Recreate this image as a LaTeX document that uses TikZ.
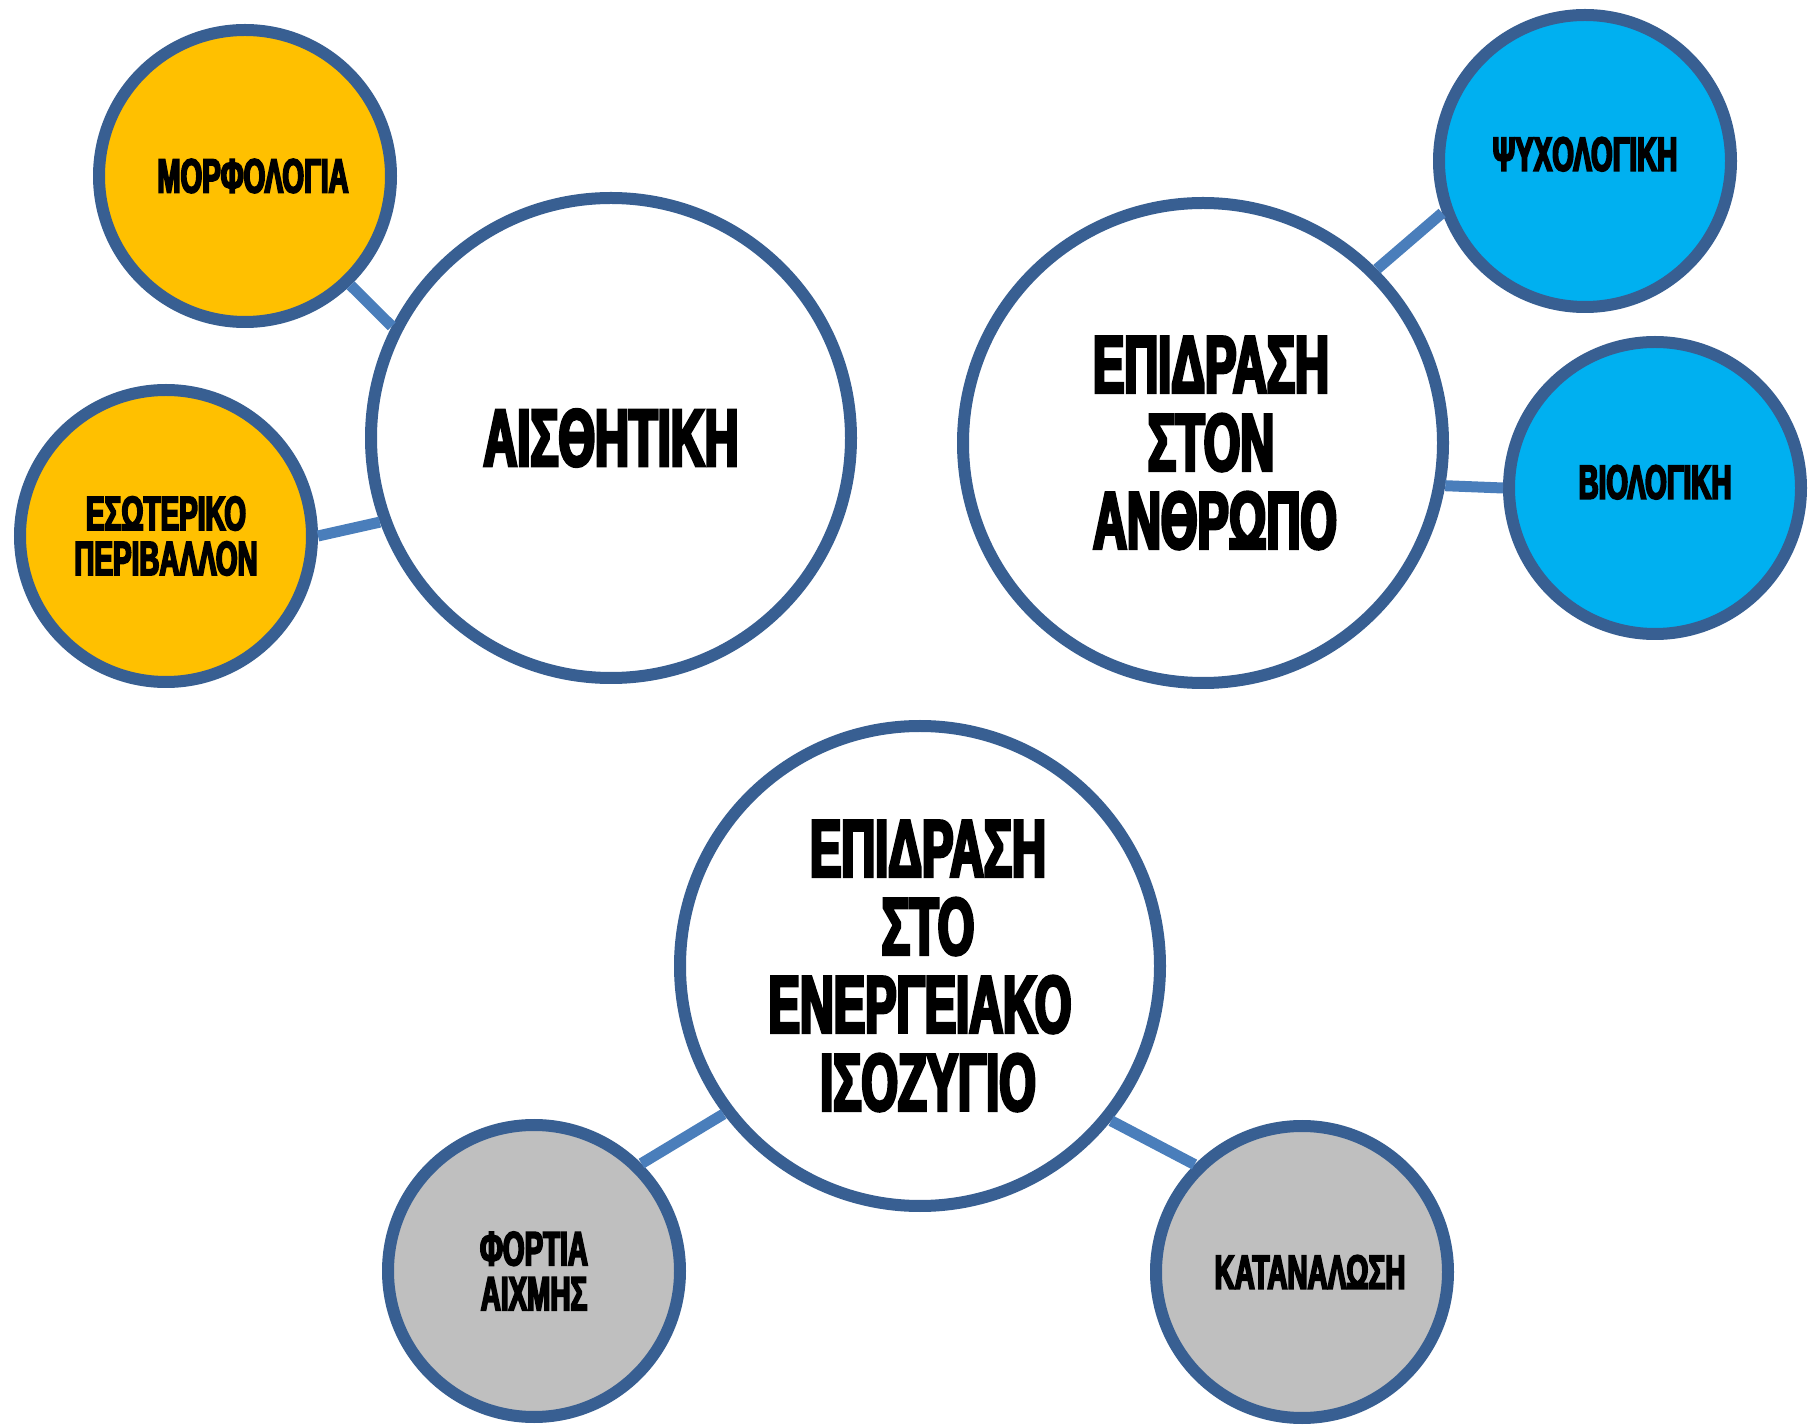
\documentclass[tikz,border=0pt]{standalone}
\usepackage{fontspec}
\newfontfamily\bubblefont{Liberation Sans}[FakeStretch=0.58,BoldFeatures={FakeBold=3.8}]
\definecolor{rimblue}{HTML}{385F92}
\definecolor{linkblue}{HTML}{4A7EBB}
\definecolor{gold}{HTML}{FFC000}
\definecolor{sky}{HTML}{00B0F0}
\definecolor{ash}{HTML}{BFBFBF}
\tikzset{
  rim/.style={circle, draw=rimblue, line width=6pt, inner sep=0pt, align=center, text=black},
  bigc/.style={rim, fill=white, minimum size=240pt,
    font=\bubblefont\bfseries\fontsize{40.5}{39}\selectfont},
  smallc/.style={rim, minimum size=146pt,
    font=\bubblefont\bfseries\fontsize{24}{22.5}\selectfont},
  link/.style={draw=linkblue, line width=5.5pt}
}

\begin{document}
\begin{tikzpicture}[x=0.5pt, y=-0.5pt]
  \useasboundingbox (0,0) rectangle (1812,1427);

  % aesthetics group
  \node[bigc] (aisth) at (611,438) {ΑΙΣΘΗΤΙΚΗ};
  \node[smallc, fill=gold] (morf) at (245,176) {\hspace*{8pt}ΜΟΡΦΟΛΟΓΙΑ};
  \node[smallc, fill=gold] (eso) at (166,536) {ΕΣΩΤΕΡΙΚΟ\\ΠΕΡΙΒΑΛΛΟΝ};

  % human impact group
  \node[bigc] (anth) at (1203,443) {\hspace*{8pt}ΕΠΙΔΡΑΣΗ\\\hspace*{8pt}ΣΤΟΝ\\\hspace*{12pt}ΑΝΘΡΩΠΟ};
  \node[smallc, fill=sky] (psych) at (1585,161) {\raisebox{7pt}{ΨΥΧΟΛΟΓΙΚΗ}};
  \node[smallc, fill=sky] (bio) at (1655,488) {\raisebox{6pt}{ΒΙΟΛΟΓΙΚΗ}};

  % energy balance group
  \node[bigc] (ener) at (920,966) {\hspace*{8pt}ΕΠΙΔΡΑΣΗ\\\hspace*{8pt}ΣΤΟ\\ΕΝΕΡΓΕΙΑΚΟ\\\hspace*{8pt}ΙΣΟΖΥΓΙΟ};
  \node[smallc, fill=ash] (fort) at (534,1271) {ΦΟΡΤΙΑ\\ΑΙΧΜΗΣ};
  \node[smallc, fill=ash] (kat) at (1302,1272) {\hspace*{8pt}ΚΑΤΑΝΑΛΩΣΗ};

  \draw[link] (morf.-46) -- (aisth.153);
  \draw[link] (eso.0) -- (aisth.200);
  \draw[link] (anth.45) -- (psych.200);
  \draw[link] (anth.-10) -- (bio.180);
  \draw[link] (fort.45) -- (ener.217);
  \draw[link] (ener.-39) -- (kat.135);
\end{tikzpicture}
\end{document}
